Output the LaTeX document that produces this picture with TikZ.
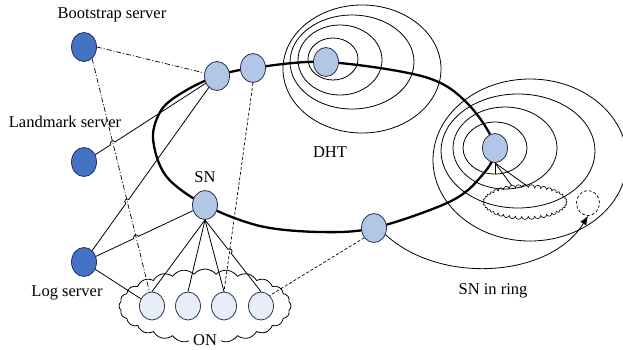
\documentclass[tikz,border=0pt]{standalone}
\usepackage{fontspec}
\setmainfont{Liberation Serif}
\usetikzlibrary{calc,intersections,shapes.geometric,shapes.symbols,arrows.meta}
\definecolor{srvfill}{RGB}{68,114,196}
\definecolor{srvline}{RGB}{30,50,90}
\definecolor{snfill}{RGB}{178,198,230}
\definecolor{snline}{RGB}{40,50,80}
\definecolor{onfill}{RGB}{232,238,248}
\begin{document}
\begin{tikzpicture}[x=1pt,y=-1pt,
  srv/.style={ellipse,draw=srvline,fill=srvfill,minimum width=25pt,minimum height=29pt,inner sep=0pt,line width=0.8pt},
  snn/.style={ellipse,draw=snline,fill=snfill,minimum width=25pt,minimum height=29pt,inner sep=0pt,line width=0.8pt},
  onn/.style={ellipse,draw=snline,fill=onfill,minimum width=25pt,minimum height=28pt,inner sep=0pt,line width=0.8pt},
  lbl/.style={font=\fontsize{16.5}{18}\selectfont,inner sep=0pt,anchor=base},
  ringline/.style={line width=2.3pt},
  wire/.style={line width=0.8pt},
  orbit/.style={line width=0.8pt},
  dashdotline/.style={line width=0.7pt,dash pattern=on 5pt off 2pt on 1pt off 2pt},
  dashline/.style={line width=0.7pt,dash pattern=on 3pt off 2pt},
  hop/.style={bend left=90,looseness=1.7}
]
\useasboundingbox (0,0) rectangle (623,349);

% concentric orbits around DHT node
\draw[orbit] (333,59) ellipse [x radius=25,y radius=21];
\draw[orbit] (340,60) ellipse [x radius=42,y radius=35];
\draw[orbit] (352,62) ellipse [x radius=62,y radius=47];
\draw[orbit] (362,69) ellipse [x radius=79,y radius=64];
% concentric orbits around right node
\draw[orbit] (495,148) ellipse [x radius=32,y radius=26];
\draw[orbit] (505,148) ellipse [x radius=52,y radius=41];
\draw[orbit] (518,151) ellipse [x radius=77,y radius=57];
\draw[orbit] (530,160) ellipse [x radius=97,y radius=81];

% ring
\draw[ringline] plot[smooth cycle,tension=0.55] coordinates {
  (217,76) (253,68) (326,62) (425,77) (468,104) (495,148) (478,180) (447,203)
  (374,228) (320,232) (260,226) (205,205) (166,176) (153,138) (162,109) (185,91)};

% ON cloud
\node[cloud,draw,fill=white,wire,cloud puffs=24,cloud puff arc=100,cloud ignores aspect,
  minimum width=172pt,minimum height=74pt,inner sep=0pt] (oncloud) at (205,306) {};
% small cloud
\node[cloud,draw,wire,line width=0.6pt,cloud puffs=40,cloud puff arc=170,cloud ignores aspect,
  minimum width=84pt,minimum height=35pt,inner sep=0pt] (sc) at (525,202) {};
% dashed circle
\node[ellipse,draw,dashline,minimum width=23pt,minimum height=25pt,inner sep=0pt] (dc) at (588,203) {};

% nodes
\node[srv] (B) at (84,47) {};
\node[srv] (L) at (84,162) {};
\node[srv] (G) at (84,262) {};
\node[snn] (SN1) at (217,76) {};
\node[snn] (SN2) at (253,68) {};
\node[snn] (DN) at (326,62) {};
\node[snn] (R) at (495,148) {};
\node[snn] (BR) at (374,228) {};
\node[snn] (SN) at (205,205) {};
\node[onn] (ON1) at (152,306) {};
\node[onn] (ON2) at (188,306) {};
\node[onn] (ON3) at (224,306) {};
\node[onn] (ON4) at (261,306) {};

% labels
\node[lbl] (tb) at (112,18) {Bootstrap server};
\node[lbl] (tl) at (65,127) {Landmark server};
\node[lbl] (tg) at (67,296) {Log server};
\node[lbl] (tsn) at (205,182) {SN};
\node[lbl] (tdht) at (330,157) {DHT};
\node[lbl,fill=white,inner xsep=4pt,inner ysep=1pt] (ton) at (205,345) {ON};
\node[lbl] (tring) at (493,294) {SN in ring};

% dashed / dash-dot connectors
\draw[dashdotline] (B.east) -- (SN1);
\draw[dashdotline,name path=dd] (B.-55) -- (ON1.100);
\draw[dashline,name path=d2] (SN2.south) -- (ON3.north);
\draw[dashline] (BR.225) -- (ON4.50);

% solid connectors with hops
\path[name path=p1] (L) -- (SN1);
\path[name intersections={of=dd and p1,by=h1}];
\draw[wire] (L) -- ($(h1)!2.5pt!(L.center)$) to[hop] ($(h1)!2.5pt!(SN1.center)$) -- (SN1);

\path[name path=p2] (G) -- (SN1);
\path[name intersections={of=dd and p2,by=h2}];
\draw[wire] (G) -- ($(h2)!2.5pt!(G.center)$) to[hop] ($(h2)!2.5pt!(SN1.center)$) -- (SN1);

\path[name path=p3] (G) -- (SN);
\path[name intersections={of=dd and p3,by=h3}];
\draw[wire] (G) -- ($(h3)!2.5pt!(G.center)$) to[hop] ($(h3)!2.5pt!(SN.center)$) -- (SN);

\draw[wire] (G) -- (ON1);

\draw[wire] (SN.south) -- (ON1.north);
\draw[wire] (SN.south) -- (ON2.north);
\draw[wire] (SN.south) -- (ON3.north);
\path[name path=p4] (SN.south) -- (ON4.north);
\path[name intersections={of=d2 and p4,by=h4}];
\draw[wire] (SN.south) -- ($(h4)!2.5pt!(SN.south)$) to[hop] ($(h4)!2.5pt!(ON4.north)$) -- (ON4.north);

% right node to small cloud
\coordinate (rv) at (495,174);
\coordinate (rc1) at (512,186);
\coordinate (rc2) at (527,186);
\draw[wire] (R.south) -- (rv);
\draw[wire] (R.south) -- (rc1);
\draw[wire] (R.south) -- (rc2);

% arrow from SN to its place in ring
\draw[wire,-{Latex[length=9pt,width=7pt]}] (BR.-30) .. controls (440,285) and (550,278) .. (dc.south);
\end{tikzpicture}
\end{document}
